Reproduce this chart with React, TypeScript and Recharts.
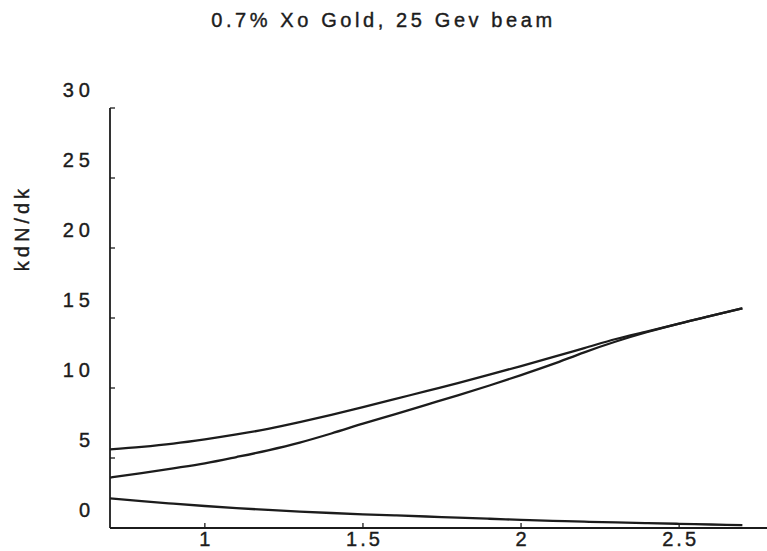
import React from 'react';
import { LineChart, Line, XAxis, YAxis, Label } from 'recharts';

const titleText = '0.7% Xo Gold, 25 Gev beam';
const yLabel = 'kdN/dk';

const kValues = [0.7, 0.8, 0.9, 1.0, 1.1, 1.2, 1.3, 1.4, 1.5, 1.6, 1.7, 1.8, 1.9, 2.0, 2.1, 2.2, 2.3, 2.4, 2.5, 2.6, 2.7];
const upperSeries = [5.62, 5.8, 6.03, 6.33, 6.68, 7.08, 7.56, 8.08, 8.63, 9.2, 9.78, 10.35, 10.95, 11.57, 12.2, 12.85, 13.5, 14.05, 14.6, 15.15, 15.69];
const middleSeries = [3.6, 3.92, 4.26, 4.62, 5.07, 5.55, 6.1, 6.75, 7.45, 8.12, 8.8, 9.48, 10.18, 10.92, 11.7, 12.55, 13.32, 14.0, 14.6, 15.15, 15.69];
const lowerSeries = [2.12, 1.92, 1.74, 1.57, 1.42, 1.29, 1.17, 1.07, 0.98, 0.9, 0.82, 0.74, 0.66, 0.58, 0.51, 0.45, 0.4, 0.35, 0.3, 0.25, 0.2];

const xTicks = [1, 1.5, 2, 2.5];
const yTicks = [0, 5, 10, 15, 20, 25, 30];

const data = kValues.map((k, i) => ({
  k,
  upper: upperSeries[i],
  middle: middleSeries[i],
  lower: lowerSeries[i],
}));

const INK = '#1c1c1c';
const FONT = '"Liberation Sans", Arial, Helvetica, sans-serif';

const BottomTick = (props: any) => {
  const { x, y, payload } = props;
  return (
    <g>
      <line x1={x} y1={y} x2={x} y2={y - 5} stroke={INK} strokeWidth={1.3} />
      <text x={x + 1.5} y={y + 18} textAnchor="middle" fontSize={20} fontFamily={FONT} letterSpacing={3} fill={INK} stroke={INK} strokeWidth={0.4}>
        {String(payload.value)}
      </text>
    </g>
  );
};

const TopTick = (props: any) => {
  const { x, y } = props;
  return <line x1={x} y1={y} x2={x} y2={y + 5} stroke={INK} strokeWidth={1.3} />;
};

const LeftTick = (props: any) => {
  const { x, y, payload } = props;
  return (
    <g>
      <line x1={x} y1={y} x2={x + 5} y2={y} stroke={INK} strokeWidth={1.3} />
      <text x={95} y={y - 11.5} textAnchor="end" fontSize={20} fontFamily={FONT} letterSpacing={5} fill={INK} stroke={INK} strokeWidth={0.4}>
        {String(payload.value)}
      </text>
    </g>
  );
};

export default function App() {
  return (
    <div style={{ position: 'absolute', left: 0, top: 0, width: 767, height: 551, overflow: 'hidden', background: '#fff' }}>
      <div
        style={{
          position: 'absolute',
          left: 0,
          top: 9,
          width: 767,
          textAlign: 'center',
          fontFamily: FONT,
          fontSize: 20,
          lineHeight: '22px',
          letterSpacing: 3.6,
          color: INK,
          WebkitTextStroke: '0.4px #1c1c1c',
        }}
      >
        {titleText}
      </div>
      <LineChart width={790} height={551} data={data} margin={{ top: 108, right: 16, bottom: 0, left: 0 }}>
        <XAxis
          dataKey="k"
          type="number"
          domain={[0.7, 2.8]}
          ticks={xTicks}
          allowDataOverflow
          height={23}
          tickSize={0}
          tickMargin={0}
          tick={<BottomTick />}
          axisLine={{ stroke: INK, strokeWidth: 1.8 }}
          tickLine={false}
        />
        <XAxis
          xAxisId="top"
          orientation="top"
          dataKey="k"
          type="number"
          domain={[0.7, 2.8]}
          ticks={xTicks}
          allowDataOverflow
          height={0}
          tickSize={0}
          tickMargin={0}
          tick={<TopTick />}
          axisLine={{ stroke: INK, strokeWidth: 1.8 }}
          tickLine={false}
        />
        <YAxis
          type="number"
          domain={[0, 30]}
          ticks={yTicks}
          width={110}
          tickSize={0}
          tickMargin={0}
          tick={<LeftTick />}
          axisLine={{ stroke: INK, strokeWidth: 1.8 }}
          tickLine={false}
        >
          <Label
            content={() => (
              <text
                x={22}
                y={228}
                transform="rotate(-90 22 228)"
                textAnchor="middle"
                dominantBaseline="central"
                fontSize={20}
                fontFamily={FONT}
                letterSpacing={4}
                fill={INK}
                stroke={INK}
                strokeWidth={0.4}
              >
                {yLabel}
              </text>
            )}
          />
        </YAxis>
        <Line type="monotone" dataKey="upper" stroke={INK} strokeWidth={2.3} dot={false} isAnimationActive={false} />
        <Line type="monotone" dataKey="middle" stroke={INK} strokeWidth={2.3} dot={false} isAnimationActive={false} />
        <Line type="monotone" dataKey="lower" stroke={INK} strokeWidth={2.3} dot={false} isAnimationActive={false} />
      </LineChart>
    </div>
  );
}
